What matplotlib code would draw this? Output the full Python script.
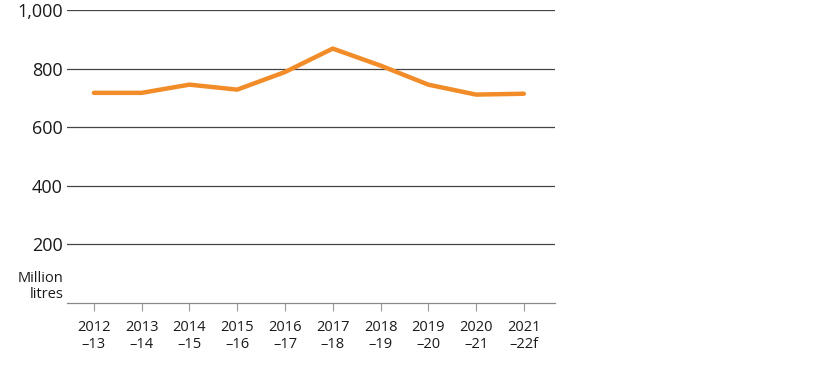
import numpy as np
from matplotlib import pyplot as plt

plt.rcParams['font.family'] = ['Open Sans', 'DejaVu Sans']

years = ["2012\n\u201313", "2013\n\u201314", "2014\n\u201315", "2015\n\u201316", "2016\n\u201317",
         "2017\n\u201318", "2018\n\u201319", "2019\n\u201320", "2020\n\u201321", "2021\n\u201322f"]
volume = [717, 717, 745, 728, 788, 868, 810, 745, 711, 714]
yticks = [200, 400, 600, 800, 1000]
ytick_labels = ["200", "400", "600", "800", "1,000"]

fig = plt.figure(figsize=(8.16, 3.66), dpi=100)
ax = fig.add_axes([0.082, 0.172, 0.598, 0.801])

x = np.arange(len(years))
for t in yticks:
    ax.axhline(t, color='#444444', lw=0.9, zorder=1)
ax.plot(x, volume, color='#F28C28', lw=3.2, solid_capstyle='round', solid_joinstyle='round', zorder=3)

ax.set_ylim(0, 1000)
ax.set_xlim(-0.565, 9.65)
ax.set_yticks(yticks)
ax.set_yticklabels(ytick_labels, fontsize=13, color='#1a1a1a')
ax.set_xticks(x)
ax.set_xticklabels(years, fontsize=10.5, color='#1a1a1a', linespacing=1.25)
ax.tick_params(axis='y', length=0, pad=3)
ax.tick_params(axis='x', length=6, color='#999999', pad=6, direction='out')

for s in ['top', 'right', 'left']:
    ax.spines[s].set_visible(False)
ax.spines['bottom'].set_color('#888888')
ax.spines['bottom'].set_linewidth(0.9)

ax.text(-0.007, 0.005, "Million\nlitres", transform=ax.transAxes, ha='right', va='bottom',
        fontsize=10.5, color='#1a1a1a', linespacing=1.05)

fig.savefig("out.png", dpi=100)
